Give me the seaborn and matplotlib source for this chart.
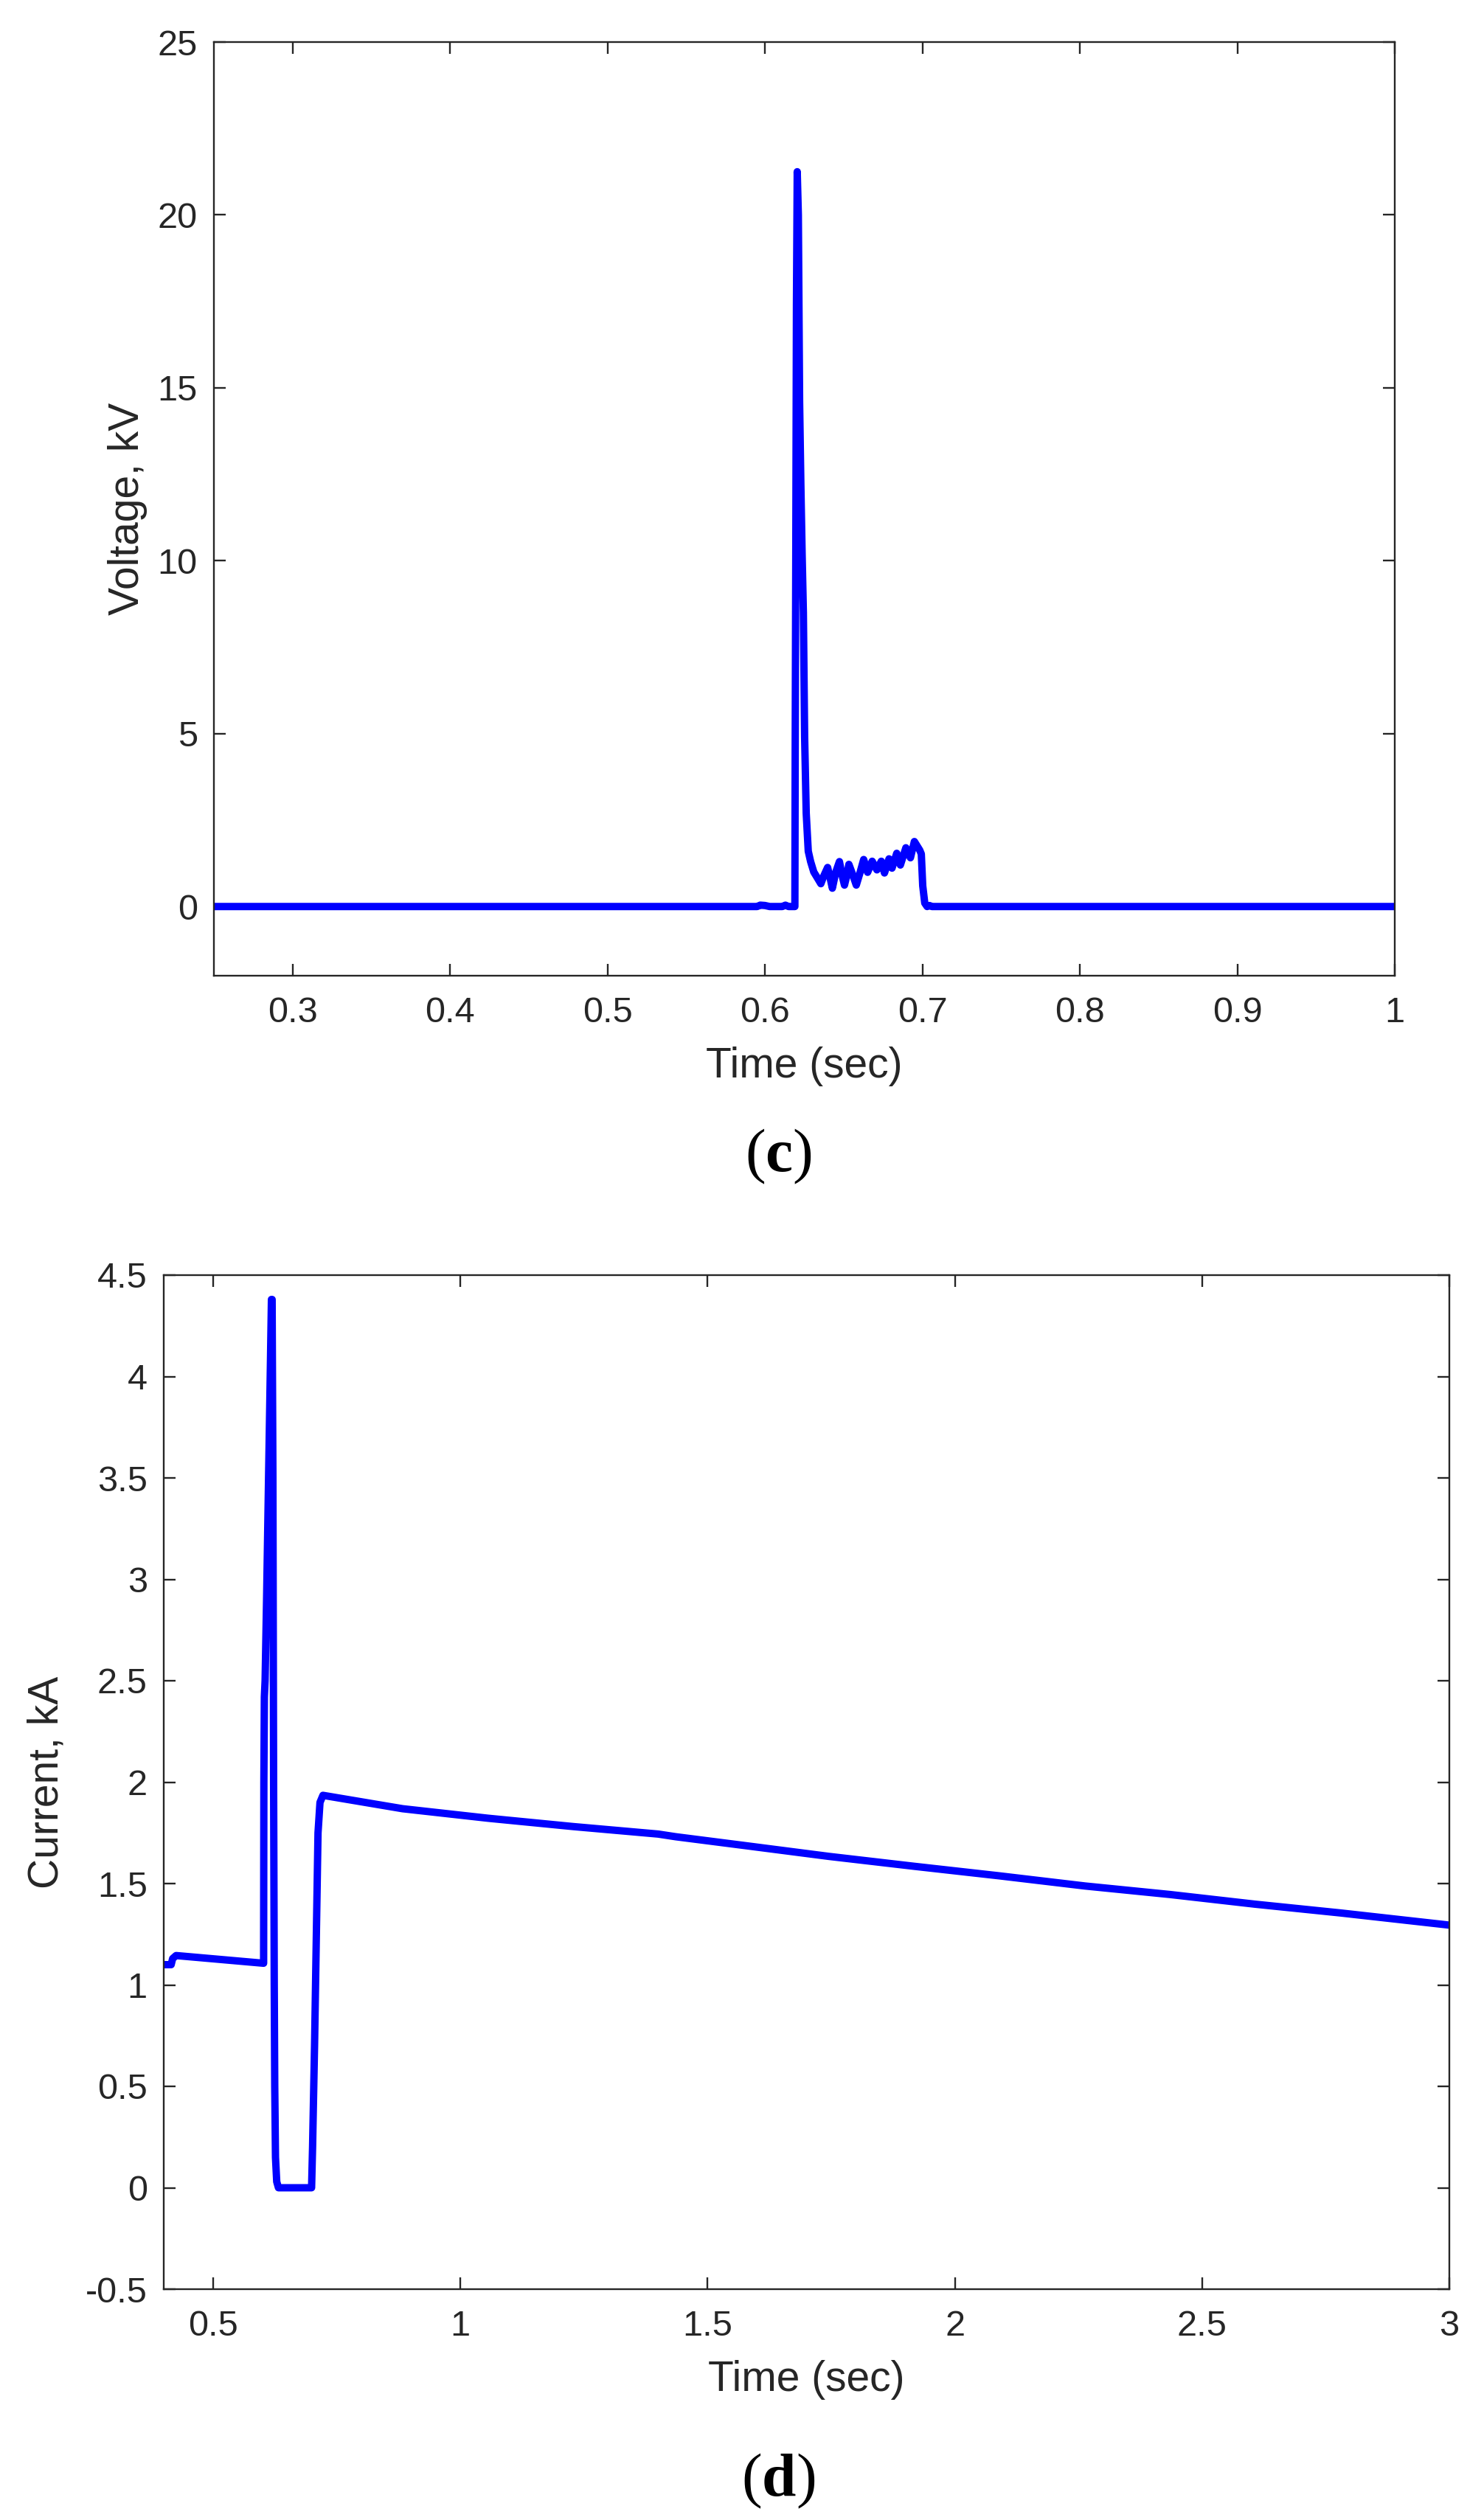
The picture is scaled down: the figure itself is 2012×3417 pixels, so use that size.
import numpy as np
import pandas as pd
import matplotlib
matplotlib.use("Agg")
import matplotlib.pyplot as plt
import seaborn as sns
from matplotlib.ticker import FixedLocator, FuncFormatter

# ---------------- data ----------------
time_c = [0.25, 0.595, 0.597, 0.600, 0.603, 0.605, 0.611, 0.613, 0.615, 0.6190,
          0.6192, 0.6196, 0.6200, 0.6205, 0.6212, 0.6220, 0.6228, 0.6236, 0.6244,
          0.6252, 0.6262, 0.6275, 0.6290, 0.6310, 0.6330, 0.6355, 0.6375, 0.6398,
          0.6415, 0.6428, 0.6450, 0.6473, 0.6490, 0.6505, 0.6520, 0.6533, 0.6555,
          0.6580, 0.6605, 0.6627, 0.6652, 0.6681, 0.6711, 0.6739, 0.6759, 0.6788,
          0.6807, 0.6837, 0.6860, 0.6895, 0.6924, 0.6949, 0.6983, 0.6993, 0.7002,
          0.7015, 0.7030, 0.7045, 0.7060, 1.0]
voltage_c = [0.0, 0.0, 0.04, 0.03, 0.0, 0.0, 0.0, 0.04, 0.0, 0.0,
             4.5, 10.5, 17.4, 21.25, 20.0, 14.6, 12.2, 10.2, 8.5,
             4.9, 2.7, 1.6, 1.3, 1.0, 0.85, 0.66, 0.9, 1.13,
             0.8, 0.53, 1.0, 1.30, 0.9, 0.62, 0.9, 1.22, 0.95,
             0.62, 1.0, 1.36, 0.99, 1.31, 1.06, 1.31, 0.97, 1.38,
             1.11, 1.54, 1.20, 1.70, 1.41, 1.88, 1.63, 1.52, 0.60,
             0.10, 0.0, 0.03, 0.0, 0.0]

time_d = [0.40, 0.415, 0.418, 0.425, 0.602, 0.6025, 0.6035, 0.6050, 0.6080,
          0.6120, 0.6160, 0.6178, 0.6192, 0.6208, 0.6222, 0.6235, 0.6245, 0.6260,
          0.6285, 0.6320, 0.6990, 0.7010, 0.7050, 0.7090, 0.7120, 0.7160, 0.7220,
          0.883, 1.056, 1.228, 1.400, 1.435, 1.573, 1.745, 1.918, 2.090, 2.263,
          2.435, 2.608, 2.780, 3.0]
current_d = [1.10, 1.10, 1.13, 1.145, 1.107, 2.0, 2.42, 2.5, 2.9,
             3.5, 4.1, 4.38, 4.38, 3.5, 2.0, 1.0, 0.5, 0.15,
             0.03, 0.0, 0.0, 0.2, 0.7, 1.3, 1.75, 1.9, 1.935,
             1.869, 1.822, 1.781, 1.744, 1.731, 1.688, 1.634, 1.585, 1.538, 1.488,
             1.446, 1.398, 1.355, 1.295]

xticks_c = [0.3, 0.4, 0.5, 0.6, 0.7, 0.8, 0.9, 1.0]
yticks_c = [0, 5, 10, 15, 20, 25]
xticks_d = [0.5, 1.0, 1.5, 2.0, 2.5, 3.0]
yticks_d = [-0.5, 0, 0.5, 1, 1.5, 2, 2.5, 3, 3.5, 4, 4.5]
xlim_c = (0.25, 1.0)
ylim_c = (-2, 25)
xlim_d = (0.4, 3.0)
ylim_d = (-0.5, 4.5)

xlabel = "Time (sec)"
ylabel_c = "Voltage, kV"
ylabel_d = "Current, kA"
panel_c = r"($\mathbf{c}$)"
panel_d = r"($\mathbf{d}$)"

# ---------------- style ----------------
sns.set_style("ticks")
plt.rcParams["font.family"] = ["Liberation Sans", "DejaVu Sans"]
plt.rcParams["axes.unicode_minus"] = False
plt.rcParams["mathtext.fontset"] = "custom"
plt.rcParams["mathtext.rm"] = "Liberation Serif"
plt.rcParams["mathtext.bf"] = "Liberation Serif:bold"

DARK = "#262626"
BLUE = "#0000ff"
W, H = 2012, 3417
DPI = 200
fig = plt.figure(figsize=(W / DPI, H / DPI), dpi=DPI)
fig.patch.set_facecolor("white")

def px_axes(left, top, right, bottom):
    return fig.add_axes([left / W, 1 - bottom / H, (right - left) / W, (bottom - top) / H])

ax_c = px_axes(290, 57, 1891, 1323)
ax_d = px_axes(222, 1729, 1965, 3104)

df_c = pd.DataFrame({"t": time_c, "v": voltage_c})
df_d = pd.DataFrame({"t": time_d, "i": current_d})

sns.lineplot(data=df_c, x="t", y="v", ax=ax_c, color=BLUE, linewidth=3.6,
             estimator=None, sort=False)
sns.lineplot(data=df_d, x="t", y="i", ax=ax_d, color=BLUE, linewidth=3.6,
             estimator=None, sort=False)

fmt = FuncFormatter(lambda v, p: "{:g}".format(round(v, 3)))

for ax, xt, yt, xl, yl, ylab, ylpad in [
        (ax_c, xticks_c, yticks_c, xlim_c, ylim_c, ylabel_c, 5),
        (ax_d, xticks_d, yticks_d, xlim_d, ylim_d, ylabel_d, 9)]:
    ax.set_xlim(*xl)
    ax.set_ylim(*yl)
    ax.xaxis.set_major_locator(FixedLocator(xt))
    ax.yaxis.set_major_locator(FixedLocator(yt))
    ax.xaxis.set_major_formatter(fmt)
    ax.yaxis.set_major_formatter(fmt)
    for s in ax.spines.values():
        s.set_visible(True)
        s.set_color(DARK)
        s.set_linewidth(0.85)
    ax.tick_params(axis="both", which="major", direction="in", length=5.8,
                   width=0.85, color=DARK, labelcolor=DARK, labelsize=17.5,
                   top=True, right=True)
    ax.tick_params(axis="x", pad=10)
    ax.tick_params(axis="y", pad=8)
    ax.set_xlabel(xlabel, fontsize=20.5, color=DARK, labelpad=8.5)
    ax.set_ylabel(ylab, fontsize=20.5, color=DARK, labelpad=ylpad)
    ax.set_facecolor("white")
    ax.grid(False)

fig.text(1055 / W, 1 - 1568 / H, panel_c, ha="center", va="center",
         fontsize=30, family="Liberation Serif", color="black")
fig.text(1055 / W, 1 - 3364 / H, panel_d, ha="center", va="center",
         fontsize=30, family="Liberation Serif", color="black")

fig.savefig("out.png", dpi=DPI, facecolor="white")
